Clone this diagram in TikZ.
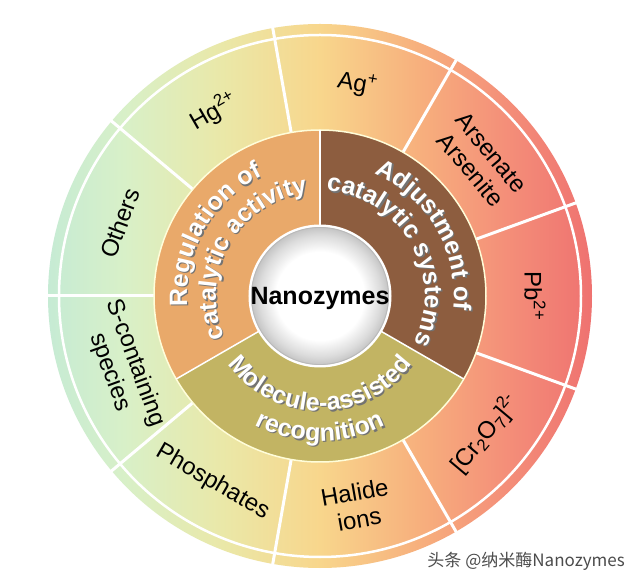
\documentclass[tikz,border=0pt]{standalone}
\usepackage{fontspec}
\setmainfont{Liberation Sans}
\newfontfamily\cjkfont{Noto Sans CJK SC}
\usetikzlibrary{decorations.text}

\definecolor{cA}{HTML}{C6EBD4}
\definecolor{cB}{HTML}{D8F0C8}
\definecolor{cC}{HTML}{EAE8A8}
\definecolor{cD}{HTML}{F8D68C}
\definecolor{cE}{HTML}{F7B07D}
\definecolor{cF}{HTML}{F48F79}
\definecolor{cG}{HTML}{EF7270}
\definecolor{regc}{HTML}{E9A96A}
\definecolor{adjc}{HTML}{8D5D3F}
\definecolor{molc}{HTML}{C2B463}
\definecolor{lensedge}{HTML}{C4C4C4}

\pgfdeclarehorizontalshading{ringshade}{100bp}{color(0bp)=(cA); color(25bp)=(cA); color(32bp)=(cB); color(41bp)=(cC); color(50bp)=(cD); color(59bp)=(cE); color(67bp)=(cF); color(75bp)=(cG); color(100bp)=(cG)}
\pgfdeclareradialshading{lens}{\pgfpoint{0bp}{0bp}}{color(0bp)=(white); color(16bp)=(white); color(22bp)=(white!86!black); color(25bp)=(lensedge); color(50bp)=(lensedge)}

\newcommand\ringfont{\bfseries\fontsize{25}{25}\selectfont}
\newcommand\ringtext[4]{%
  \path[decorate, decoration={text along path, text align=center, text color=black!55, text={|\ringfont|#4}}]
    ([shift={(1.4,-1.4)}]#2:#1) arc[start angle=#2, end angle=#3, radius=#1];
  \path[decorate, decoration={text along path, text align=center, text color=white, text={|\ringfont|#4}}]
    (#2:#1) arc[start angle=#2, end angle=#3, radius=#1];
}

\tikzset{
  outerlabel/.style={font=\fontsize{24}{27}\selectfont, align=center, inner sep=0pt, text=black},
  divider/.style={white, line width=3pt},
  middivider/.style={white, line width=1.5pt}
}

\begin{document}
\begin{tikzpicture}[x=1pt,y=1pt]
\useasboundingbox (-320,-287) rectangle (320,296);
\fill[white] (-320,-287) rectangle (320,296);

% outer ring
\shade[shading=ringshade] (0,0) circle[radius=272];
\draw[white, line width=2.5pt] (0,0) circle[radius=261];
\foreach \a in {20,60,...,340} \draw[divider] (\a:165) -- (\a:274);

% middle ring
\fill[regc] (0,0) -- (90:166) arc[start angle=90, end angle=210, radius=166] -- cycle;
\fill[adjc] (0,0) -- (-30:166) arc[start angle=-30, end angle=90, radius=166] -- cycle;
\fill[molc] (0,0) -- (210:166) arc[start angle=210, end angle=330, radius=166] -- cycle;
\draw[white!85!yellow, line width=1.5pt] (0,0) circle[radius=166];
\foreach \a in {90,210,330} \draw[middivider] (0,0) -- (\a:166);

% ring texts
\ringtext{133}{210}{90}{Regulation of}
\ringtext{104}{210}{90}{catalytic activity}
\ringtext{134}{90}{-30}{Adjustment of}
\ringtext{105}{90}{-30}{catalytic systems}
\ringtext{115}{210}{330}{Molecule-assisted}
\ringtext{145}{210}{330}{recognition}

% center
\draw[white, line width=3pt] (0,0) circle[radius=70];
\shade[shading=lens] (0,0) circle[radius=69];
\draw[gray!55, line width=0.8pt] (0,0) circle[radius=68.5];
\node[font=\bfseries\fontsize{25}{25}\selectfont] (nano) at (0,-2) {Nanozymes};

% outer labels
\node[outerlabel, rotate=-10] (ag) at (80:215) {Ag\textsuperscript{+}};
\node[outerlabel, rotate=30] (hg) at (120:213) {Hg\textsuperscript{2+}};
\node[outerlabel, rotate=70] (others) at (160:213) {Others};
\node[outerlabel, rotate=-70] (scont) at (200:210) {S-containing\\species};
\node[outerlabel, rotate=-30] (phos) at (240:215) {Phosphates};
\node[outerlabel, rotate=10] (hal) at (280:213) {Halide\\ions};
\node[outerlabel, rotate=50] (cr) at (320:215) {[Cr\textsubscript{2}O\textsubscript{7}]\textsuperscript{2-}};
\node[outerlabel, rotate=-90] (pb) at (0:215) {Pb\textsuperscript{2+}};
\node[outerlabel, rotate=-50] (ars) at (40:210) {Arsenate\\Arsenite};

% watermark
\node[font=\cjkfont\fontsize{17}{17}\selectfont, text=black!70, anchor=east, inner sep=0pt] (wm) at (305,-265) {头条 @纳米酶Nanozymes};
\end{tikzpicture}
\end{document}
